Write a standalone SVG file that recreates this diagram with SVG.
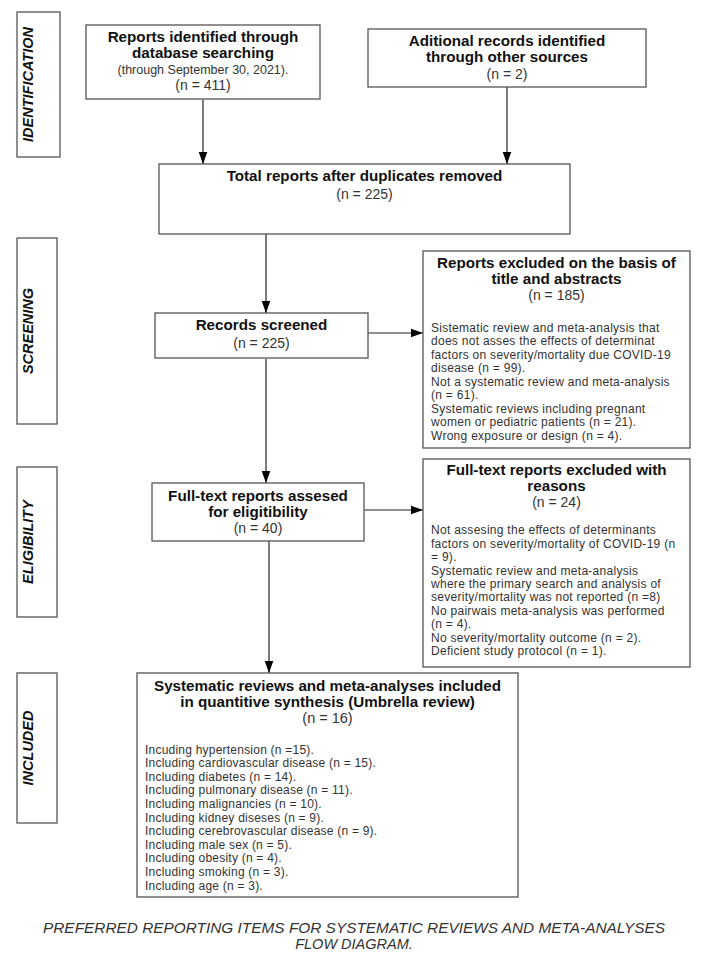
<svg xmlns="http://www.w3.org/2000/svg" width="704" height="960" viewBox="0 0 704 960">
<style>
  .box { fill: #ffffff; stroke: #555555; stroke-width: 1.3; }
  .side { fill: #ffffff; stroke: #555555; stroke-width: 1.3; }
  .t { font-family: "Liberation Sans", Arial, sans-serif; font-weight: bold; font-size: 15.2px; fill: #111111; text-anchor: middle; }
  .n { font-family: "Liberation Sans", Arial, sans-serif; font-size: 14px; fill: #333333; text-anchor: middle; }
  .s { font-family: "Liberation Sans", Arial, sans-serif; font-size: 12px; letter-spacing: 0.28px; fill: #333333; }
  .sc { text-anchor: middle; }
  .lab { font-family: "Liberation Sans", Arial, sans-serif; font-weight: bold; font-style: italic; font-size: 14.5px; fill: #111111; text-anchor: middle; }
  .foot { font-family: "Liberation Sans", Arial, sans-serif; font-style: italic; font-size: 14.5px; fill: #333333; text-anchor: middle; }
  .conn { stroke: #222222; stroke-width: 1.2; fill: none; }
</style>
<defs>
  <marker id="ah" markerUnits="userSpaceOnUse" markerWidth="12" markerHeight="16" refX="14" refY="5" orient="auto" viewBox="0 0 14 10">
    <path d="M0,0 L14,5 L0,10 Z" fill="#000000"/>
  </marker>
</defs>
<rect width="704" height="960" fill="#ffffff"/>

<g id="phase-identification">
  <rect class="side" x="17" y="12" width="43" height="145"/>
  <text class="lab" transform="translate(33,84.5) rotate(-90)">IDENTIFICATION</text>
</g>
<g id="phase-screening">
  <rect class="side" x="17" y="238" width="40" height="186"/>
  <text class="lab" transform="translate(33,331) rotate(-90)">SCREENING</text>
</g>
<g id="phase-eligibility">
  <rect class="side" x="17" y="467" width="40" height="150"/>
  <text class="lab" transform="translate(33,542) rotate(-90)">ELIGIBILITY</text>
</g>
<g id="phase-included">
  <rect class="side" x="17" y="673" width="40" height="150"/>
  <text class="lab" transform="translate(33,748) rotate(-90)">INCLUDED</text>
</g>

<g id="connectors">
  <line class="conn" x1="203" y1="100" x2="203" y2="164" marker-end="url(#ah)"/>
  <line class="conn" x1="507" y1="87" x2="507" y2="164" marker-end="url(#ah)"/>
  <line class="conn" x1="266" y1="234" x2="266" y2="313" marker-end="url(#ah)"/>
  <line class="conn" x1="368" y1="333" x2="423" y2="333" marker-end="url(#ah)"/>
  <line class="conn" x1="266" y1="359" x2="266" y2="483" marker-end="url(#ah)"/>
  <line class="conn" x1="364" y1="510" x2="423" y2="510" marker-end="url(#ah)"/>
  <line class="conn" x1="269" y1="541" x2="269" y2="673" marker-end="url(#ah)"/>
</g>

<g id="node-database">
  <rect class="box" x="86" y="25" width="234" height="74"/>
  <text class="t" x="203" y="42">Reports identified through</text>
  <text class="t" x="203" y="58">database  searching</text>
  <text class="s sc" x="203" y="73.5" style="font-size:12.5px;letter-spacing:0">(through September 30, 2021).</text>
  <text class="n" x="203" y="90">(n = 411)</text>
</g>

<g id="node-other-sources">
  <rect class="box" x="368" y="29" width="278" height="58"/>
  <text class="t" x="507" y="45.5">Aditional records identified</text>
  <text class="t" x="507" y="62">through other sources</text>
  <text class="n" x="507" y="78.5">(n = 2)</text>
</g>

<g id="node-total">
  <rect class="box" x="159" y="164" width="411" height="70"/>
  <text class="t" x="364.5" y="181">Total reports after duplicates removed</text>
  <text class="n" x="364.5" y="199">(n = 225)</text>
</g>

<g id="node-screened">
  <rect class="box" x="155" y="313" width="213" height="45"/>
  <text class="t" x="261.5" y="330">Records screened</text>
  <text class="n" x="261.5" y="348">(n = 225)</text>
</g>

<g id="node-excluded-title">
  <rect class="box" x="423" y="251" width="267" height="197"/>
  <text class="t" x="556.5" y="268">Reports excluded on the basis of</text>
  <text class="t" x="556.5" y="283.5">title  and abstracts</text>
  <text class="n" x="556.5" y="300">(n = 185)</text>
  <text class="s" x="431" y="331.5">Sistematic review and meta-analysis that</text>
  <text class="s" x="431" y="345">does not asses the effects of determinat</text>
  <text class="s" x="431" y="358.5">factors on severity/mortality due COVID-19</text>
  <text class="s" x="431" y="372">disease (n = 99).</text>
  <text class="s" x="431" y="385.5">Not a systematic review and meta-analysis</text>
  <text class="s" x="431" y="399">(n = 61).</text>
  <text class="s" x="431" y="412.5">Systematic reviews including pregnant</text>
  <text class="s" x="431" y="426">women or pediatric patients (n = 21).</text>
  <text class="s" x="431" y="439.5">Wrong exposure or design (n = 4).</text>
</g>

<g id="node-fulltext">
  <rect class="box" x="152" y="483" width="212" height="58"/>
  <text class="t" x="258" y="501">Full-text reports assesed</text>
  <text class="t" x="258" y="517">for eligitibility</text>
  <text class="n" x="258" y="533">(n = 40)</text>
</g>

<g id="node-excluded-fulltext">
  <rect class="box" x="423" y="459" width="267" height="208"/>
  <text class="t" x="556.5" y="475">Full-text reports excluded with</text>
  <text class="t" x="556.5" y="491">reasons</text>
  <text class="n" x="556.5" y="507">(n = 24)</text>
  <text class="s" x="431" y="534.2">Not assesing the effects of determinants</text>
  <text class="s" x="431" y="547.65">factors on severity/mortality of COVID-19  (n</text>
  <text class="s" x="431" y="561.1">= 9).</text>
  <text class="s" x="431" y="574.55">Systematic review and meta-analysis</text>
  <text class="s" x="431" y="588">where the primary search and analysis of</text>
  <text class="s" x="431" y="601.45">severity/mortality was not reported (n =8)</text>
  <text class="s" x="431" y="614.9">No pairwais  meta-analysis was performed</text>
  <text class="s" x="431" y="628.35">(n = 4).</text>
  <text class="s" x="431" y="641.8">No severity/mortality outcome (n = 2).</text>
  <text class="s" x="431" y="655.25">Deficient study protocol (n = 1).</text>
</g>

<g id="node-included">
  <rect class="box" x="137" y="673" width="381" height="224"/>
  <text class="t" x="327.5" y="691">Systematic reviews and meta-analyses included</text>
  <text class="t" x="327.5" y="706.5">in quantitive synthesis (Umbrella review)</text>
  <text class="n" x="327.5" y="722.5" style="font-size:14.5px">(n = 16)</text>
  <text class="s" x="145" y="753.5" style="letter-spacing:0.22px">Incuding hypertension (n =15).</text>
  <text class="s" x="145" y="767.1" style="letter-spacing:0.22px">Including cardiovascular  disease (n = 15).</text>
  <text class="s" x="145" y="780.7" style="letter-spacing:0.22px">Including diabetes (n = 14).</text>
  <text class="s" x="145" y="794.3" style="letter-spacing:0.22px">Including pulmonary disease (n = 11).</text>
  <text class="s" x="145" y="807.9" style="letter-spacing:0.22px">Including malignancies (n = 10).</text>
  <text class="s" x="145" y="821.5" style="letter-spacing:0.22px">Including kidney diseses (n = 9).</text>
  <text class="s" x="145" y="835.1" style="letter-spacing:0.22px">Including cerebrovascular  disease (n = 9).</text>
  <text class="s" x="145" y="848.7" style="letter-spacing:0.22px">Including male sex (n = 5).</text>
  <text class="s" x="145" y="862.3" style="letter-spacing:0.22px">Including obesity (n = 4).</text>
  <text class="s" x="145" y="875.9" style="letter-spacing:0.22px">Including smoking (n = 3).</text>
  <text class="s" x="145" y="889.5" style="letter-spacing:0.22px">Including age (n = 3).</text>
</g>

<g id="footer">
  <text class="foot" x="354" y="932.5" textLength="622" lengthAdjust="spacingAndGlyphs">PREFERRED REPORTING ITEMS FOR SYSTEMATIC REVIEWS AND META-ANALYSES</text>
  <text class="foot" x="354" y="948.5">FLOW DIAGRAM.</text>
</g>
</svg>
